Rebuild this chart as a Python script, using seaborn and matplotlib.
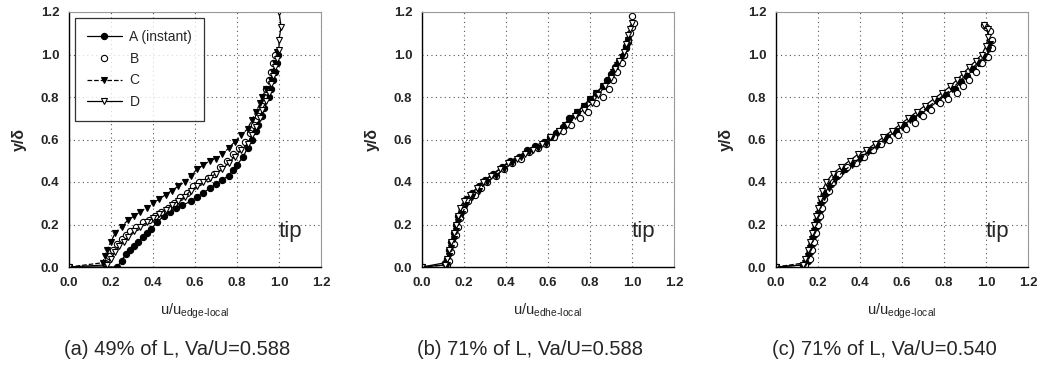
import numpy as np
import pandas as pd
import matplotlib
matplotlib.use("Agg")
import matplotlib.pyplot as plt
import seaborn as sns

sns.set_style("white")
plt.rcParams['font.family'] = ['Liberation Sans', 'DejaVu Sans']

# ---------------- data ----------------
# Panel (a)
a_A_x = [0.0, 0.23, 0.25, 0.27, 0.29, 0.31, 0.33, 0.35, 0.37, 0.39, 0.42, 0.45, 0.48, 0.51, 0.54, 0.58, 0.61, 0.64, 0.67, 0.70, 0.73, 0.76, 0.78, 0.80, 0.83, 0.85, 0.87, 0.89, 0.90, 0.92, 0.93, 0.95, 0.96, 0.97, 0.98, 0.99, 0.995]
a_A_y = [0.0, 0.0, 0.03, 0.06, 0.08, 0.10, 0.12, 0.14, 0.16, 0.18, 0.21, 0.24, 0.26, 0.28, 0.29, 0.31, 0.33, 0.35, 0.37, 0.39, 0.41, 0.43, 0.455, 0.48, 0.52, 0.56, 0.60, 0.64, 0.67, 0.71, 0.75, 0.80, 0.84, 0.88, 0.92, 0.96, 1.0]
a_B_x = [0.0, 0.17, 0.19, 0.21, 0.23, 0.25, 0.27, 0.29, 0.32, 0.35, 0.38, 0.41, 0.44, 0.47, 0.50, 0.53, 0.56, 0.59, 0.62, 0.66, 0.69, 0.72, 0.75, 0.78, 0.81, 0.84, 0.86, 0.88, 0.90, 0.92, 0.93, 0.94, 0.95, 0.96, 0.97, 0.98]
a_B_y = [0.0, 0.02, 0.05, 0.08, 0.11, 0.13, 0.15, 0.17, 0.19, 0.21, 0.22, 0.24, 0.26, 0.28, 0.30, 0.33, 0.35, 0.38, 0.40, 0.42, 0.44, 0.47, 0.50, 0.53, 0.56, 0.59, 0.63, 0.67, 0.71, 0.76, 0.80, 0.84, 0.88, 0.92, 0.96, 1.0]
a_C_x = [0.0, 0.16, 0.17, 0.18, 0.20, 0.22, 0.25, 0.28, 0.31, 0.34, 0.37, 0.40, 0.43, 0.46, 0.49, 0.52, 0.55, 0.58, 0.61, 0.64, 0.67, 0.70, 0.73, 0.76, 0.79, 0.82, 0.85, 0.87, 0.89, 0.91, 0.92, 0.94, 0.96, 0.97, 0.98, 0.99]
a_C_y = [0.0, 0.02, 0.05, 0.08, 0.12, 0.16, 0.19, 0.22, 0.24, 0.26, 0.28, 0.30, 0.32, 0.34, 0.36, 0.38, 0.40, 0.43, 0.46, 0.48, 0.50, 0.51, 0.53, 0.56, 0.59, 0.62, 0.65, 0.69, 0.73, 0.77, 0.80, 0.84, 0.88, 0.92, 0.96, 1.01]
a_D_x = [0.0, 0.18, 0.20, 0.22, 0.24, 0.26, 0.28, 0.31, 0.34, 0.37, 0.40, 0.43, 0.46, 0.49, 0.52, 0.55, 0.58, 0.61, 0.64, 0.67, 0.70, 0.73, 0.76, 0.79, 0.82, 0.85, 0.87, 0.89, 0.91, 0.92, 0.94, 0.95, 0.96, 0.97, 0.98, 0.99, 1.0, 1.0, 1.01, 1.0]
a_D_y = [0.0, 0.01, 0.04, 0.07, 0.10, 0.12, 0.14, 0.17, 0.19, 0.21, 0.23, 0.25, 0.27, 0.29, 0.31, 0.33, 0.36, 0.38, 0.40, 0.42, 0.44, 0.46, 0.49, 0.52, 0.55, 0.58, 0.62, 0.66, 0.70, 0.74, 0.78, 0.82, 0.86, 0.90, 0.94, 0.98, 1.02, 1.07, 1.13, 1.20]

# Panel (b)
b_A_x = [0.0, 0.11, 0.12, 0.13, 0.14, 0.15, 0.16, 0.17, 0.19, 0.21, 0.24, 0.27, 0.30, 0.34, 0.38, 0.42, 0.46, 0.50, 0.54, 0.58, 0.61, 0.64, 0.67, 0.70, 0.74, 0.77, 0.80, 0.83, 0.86, 0.88, 0.90, 0.92, 0.94, 0.96, 0.97, 0.98]
b_A_y = [0.0, 0.02, 0.04, 0.08, 0.12, 0.16, 0.20, 0.24, 0.28, 0.32, 0.35, 0.38, 0.41, 0.44, 0.47, 0.50, 0.52, 0.55, 0.57, 0.59, 0.61, 0.63, 0.66, 0.70, 0.73, 0.76, 0.79, 0.82, 0.85, 0.88, 0.91, 0.94, 0.97, 1.00, 1.03, 1.06]
b_B_x = [0.0, 0.12, 0.13, 0.14, 0.15, 0.16, 0.17, 0.18, 0.20, 0.22, 0.25, 0.28, 0.31, 0.35, 0.39, 0.43, 0.47, 0.51, 0.55, 0.59, 0.63, 0.67, 0.71, 0.75, 0.79, 0.83, 0.86, 0.89, 0.91, 0.93, 0.95, 0.96, 0.97, 0.98, 0.99, 1.00, 1.01, 1.00]
b_B_y = [0.0, 0.01, 0.03, 0.07, 0.11, 0.15, 0.19, 0.23, 0.27, 0.31, 0.34, 0.37, 0.40, 0.43, 0.46, 0.49, 0.51, 0.54, 0.56, 0.58, 0.61, 0.64, 0.67, 0.70, 0.73, 0.77, 0.80, 0.84, 0.88, 0.92, 0.96, 1.00, 1.04, 1.07, 1.10, 1.13, 1.15, 1.18]
b_C_x = [0.0, 0.12, 0.13, 0.14, 0.15, 0.16, 0.17, 0.19, 0.21, 0.24, 0.27, 0.31, 0.35, 0.39, 0.43, 0.47, 0.51, 0.55, 0.59, 0.62, 0.65, 0.68, 0.71, 0.74, 0.77, 0.80, 0.83, 0.86, 0.89, 0.91, 0.93, 0.95, 0.97, 0.98]
b_C_y = [0.0, 0.01, 0.05, 0.09, 0.13, 0.17, 0.21, 0.25, 0.29, 0.33, 0.36, 0.40, 0.43, 0.46, 0.49, 0.52, 0.54, 0.56, 0.58, 0.61, 0.64, 0.67, 0.70, 0.73, 0.76, 0.79, 0.82, 0.85, 0.88, 0.92, 0.95, 0.99, 1.03, 1.07]
b_D_x = [0.0, 0.11, 0.12, 0.13, 0.14, 0.15, 0.16, 0.17, 0.18, 0.20, 0.23, 0.26, 0.29, 0.33, 0.37, 0.41, 0.45, 0.49, 0.53, 0.57, 0.61, 0.65, 0.69, 0.73, 0.77, 0.81, 0.84, 0.87, 0.90, 0.92, 0.94, 0.96, 0.97, 0.98, 0.99, 1.00]
b_D_y = [0.0, 0.01, 0.04, 0.08, 0.12, 0.16, 0.20, 0.24, 0.28, 0.31, 0.34, 0.37, 0.40, 0.43, 0.46, 0.49, 0.51, 0.53, 0.55, 0.58, 0.61, 0.64, 0.67, 0.71, 0.74, 0.77, 0.81, 0.85, 0.89, 0.93, 0.97, 1.01, 1.05, 1.09, 1.12, 1.15]

# Panel (c)
c_A_x = [0.0, 0.13, 0.15, 0.16, 0.17, 0.18, 0.19, 0.20, 0.21, 0.22, 0.24, 0.26, 0.29, 0.33, 0.37, 0.41, 0.45, 0.49, 0.53, 0.57, 0.61, 0.65, 0.69, 0.73, 0.77, 0.81, 0.85, 0.88, 0.91, 0.94, 0.97, 1.00, 1.02]
c_A_y = [0.0, 0.01, 0.03, 0.07, 0.11, 0.15, 0.19, 0.23, 0.27, 0.31, 0.35, 0.39, 0.43, 0.46, 0.49, 0.52, 0.55, 0.58, 0.61, 0.64, 0.67, 0.70, 0.72, 0.75, 0.78, 0.81, 0.84, 0.87, 0.90, 0.93, 0.96, 0.99, 1.03]
c_B_x = [0.0, 0.14, 0.16, 0.17, 0.18, 0.19, 0.20, 0.21, 0.22, 0.23, 0.25, 0.27, 0.30, 0.34, 0.38, 0.42, 0.46, 0.50, 0.54, 0.58, 0.62, 0.66, 0.70, 0.74, 0.78, 0.82, 0.86, 0.89, 0.92, 0.95, 0.98, 1.01, 1.03, 1.03, 1.02, 1.00, 0.99]
c_B_y = [0.0, 0.01, 0.04, 0.08, 0.12, 0.16, 0.20, 0.24, 0.28, 0.32, 0.36, 0.40, 0.44, 0.47, 0.49, 0.52, 0.55, 0.58, 0.60, 0.62, 0.65, 0.68, 0.71, 0.74, 0.77, 0.79, 0.82, 0.85, 0.88, 0.92, 0.96, 0.99, 1.03, 1.07, 1.11, 1.13, 1.14]
c_C_x = [0.0, 0.14, 0.15, 0.16, 0.17, 0.18, 0.19, 0.20, 0.21, 0.23, 0.25, 0.28, 0.32, 0.36, 0.40, 0.44, 0.48, 0.52, 0.56, 0.60, 0.64, 0.68, 0.72, 0.76, 0.80, 0.84, 0.87, 0.90, 0.93, 0.96, 0.99, 1.01, 1.02]
c_C_y = [0.0, 0.02, 0.05, 0.09, 0.13, 0.17, 0.21, 0.25, 0.29, 0.33, 0.37, 0.41, 0.45, 0.48, 0.51, 0.54, 0.57, 0.60, 0.63, 0.66, 0.69, 0.72, 0.75, 0.78, 0.81, 0.84, 0.87, 0.90, 0.93, 0.96, 0.99, 1.02, 1.05]
c_D_x = [0.0, 0.13, 0.14, 0.15, 0.16, 0.17, 0.18, 0.19, 0.20, 0.21, 0.22, 0.24, 0.27, 0.31, 0.35, 0.39, 0.43, 0.47, 0.51, 0.55, 0.59, 0.63, 0.67, 0.71, 0.75, 0.79, 0.83, 0.86, 0.89, 0.92, 0.95, 0.98, 1.00, 1.01, 1.01, 0.99]
c_D_y = [0.0, 0.01, 0.04, 0.08, 0.12, 0.16, 0.20, 0.24, 0.28, 0.32, 0.36, 0.40, 0.44, 0.47, 0.50, 0.53, 0.55, 0.58, 0.61, 0.64, 0.67, 0.70, 0.73, 0.76, 0.79, 0.82, 0.85, 0.88, 0.91, 0.94, 0.97, 1.00, 1.04, 1.08, 1.12, 1.14]

series_names = ["A (instant)", "B", "C", "D"]
panels = [
    dict(data=[(a_A_x, a_A_y), (a_B_x, a_B_y), (a_C_x, a_C_y), (a_D_x, a_D_y)],
         xlabel="u/u$_{\\mathregular{edge\\text{-}local}}$", caption="(a) 49% of L, Va/U=0.588", legend=True),
    dict(data=[(b_A_x, b_A_y), (b_B_x, b_B_y), (b_C_x, b_C_y), (b_D_x, b_D_y)],
         xlabel="u/u$_{\\mathregular{edhe\\text{-}local}}$", caption="(b) 71% of L, Va/U=0.588", legend=False),
    dict(data=[(c_A_x, c_A_y), (c_B_x, c_B_y), (c_C_x, c_C_y), (c_D_x, c_D_y)],
         xlabel="u/u$_{\\mathregular{edge\\text{-}local}}$", caption="(c) 71% of L, Va/U=0.540", legend=False),
]
ticks = [0.0, 0.2, 0.4, 0.6, 0.8, 1.0, 1.2]
tick_labels = ["0.0", "0.2", "0.4", "0.6", "0.8", "1.0", "1.2"]

styles = [
    dict(marker="o", mfc="black", mec="black", ls="-"),
    dict(marker="o", mfc="white", mec="black", ls="none"),
    dict(marker="v", mfc="black", mec="black", ls="--"),
    dict(marker="v", mfc="white", mec="black", ls="-"),
]

fig = plt.figure(figsize=(10.44, 3.70), dpi=100)
lefts = [69 / 1044, 422 / 1044, 776 / 1044]
w = 252 / 1044
bottom = 1 - 267 / 370
h = 255 / 370

for p, left in zip(panels, lefts):
    ax = fig.add_axes([left, bottom, w, h])
    for (xs, ys), name, st in zip(p["data"], series_names, styles):
        df = pd.DataFrame({"x": xs, "y": ys})
        sns.lineplot(data=df, x="x", y="y", sort=False, estimator=None, ax=ax,
                     color="black", linewidth=0.9, linestyle=st["ls"] if st["ls"] != "none" else "-",
                     marker=st["marker"], markersize=4.5, markerfacecolor=st["mfc"],
                     markeredgecolor=st["mec"], markeredgewidth=0.8, label=name, legend=False)
        if st["ls"] == "none":
            ax.lines[-1].set_linestyle("none")
    ax.set_xlim(0, 1.2)
    ax.set_ylim(0, 1.2)
    ax.set_xticks(ticks)
    ax.set_xticklabels(tick_labels)
    ax.set_yticks(ticks)
    ax.set_yticklabels(tick_labels)
    ax.tick_params(labelsize=9.5, length=3, width=0.8, direction="out", pad=4)
    for lab in ax.get_xticklabels() + ax.get_yticklabels():
        lab.set_fontweight("bold")
    ax.grid(True, color="#555555", linestyle=(0, (1, 3)), linewidth=0.8)
    for s in ["left", "bottom"]:
        ax.spines[s].set_color("black")
        ax.spines[s].set_linewidth(1.0)
    for s in ["top", "right"]:
        ax.spines[s].set_color("#999999")
        ax.spines[s].set_linewidth(0.8)
    ax.set_xlabel(p["xlabel"], fontsize=10.5, labelpad=9)
    ax.set_ylabel("y/δ", fontsize=11.5, labelpad=10, fontweight="bold")
    ax.text(1.0, 0.165, "tip", fontsize=16, transform=ax.transData, ha="left", va="center")
    ax.text(0.43, -0.325, p["caption"], fontsize=14.5, ha="center", va="center", transform=ax.transAxes)
    if p["legend"]:
        handles = [ax.lines[i] for i in range(4)]
        leg = ax.legend(handles, series_names, loc="upper left", bbox_to_anchor=(0.025, 0.975),
                        borderaxespad=0.0,
                        fontsize=10, frameon=True, fancybox=False, edgecolor="black",
                        handlelength=2.5, borderpad=0.85, labelspacing=0.55, handletextpad=0.55)
        leg.get_frame().set_linewidth(0.9)

fig.savefig("out.png", dpi=100)
